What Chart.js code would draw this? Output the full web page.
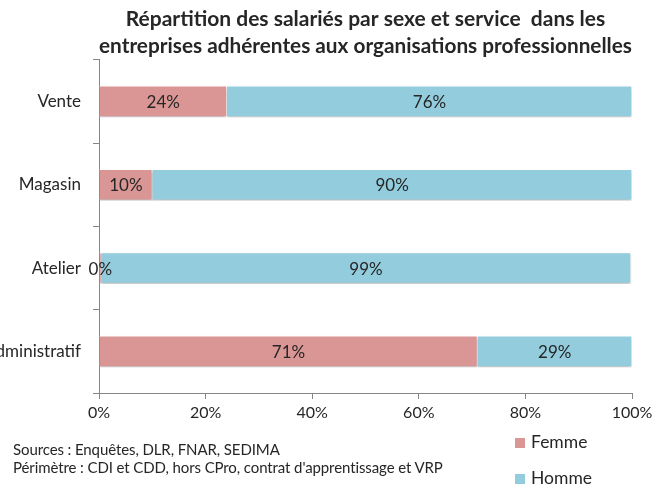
<!DOCTYPE html>
<html>
<head>
<meta charset="utf-8">
<script src="https://cdn.jsdelivr.net/npm/chart.js@4"></script>
<style>
  body { margin: 0; background: #fff; }
  #wrap { position: relative; width: 666px; height: 488px; }
  .note { position: absolute; left: 13px; font-family: Lato, sans-serif; font-size: 15px; color: #262626; white-space: nowrap; letter-spacing: -0.1px; }
  .leg { position: absolute; left: 515px; font-family: Lato, sans-serif; font-size: 17.5px; color: #262626; }
  .leg span { display: inline-block; width: 10px; height: 10px; margin-right: 6px; }
</style>
</head>
<body>
<div id="wrap">
  <canvas id="chart" width="666" height="488"></canvas>
  <div class="note" style="top:440px">Sources : Enquêtes, DLR, FNAR, SEDIMA</div>
  <div class="note" style="top:458px">Périmètre : CDI et CDD, hors CPro, contrat d'apprentissage et VRP</div>
  <div class="leg" style="top:431px"><span style="background:#D99694"></span>Femme</div>
  <div class="leg" style="top:467px"><span style="background:#93CDDD"></span>Homme</div>
</div>
<script>
const services = ["Vente", "Magasin", "Atelier", "Administratif"];
const femme = [24, 10, 0.4, 71];
const homme = [76, 90, 99.4, 29];
const xTicks = [0, 20, 40, 60, 80, 100];

const textColor = '#262626';
const fontFamily = 'Lato, sans-serif';

// labels in the middle of each segment
const segmentLabels = {
    id: 'segmentLabels',
    afterDatasetsDraw(chart) {
        const ctx = chart.ctx;
        ctx.save();
        ctx.font = '17px ' + fontFamily;
        ctx.fillStyle = textColor;
        ctx.textAlign = 'center';
        ctx.textBaseline = 'middle';
        chart.data.datasets.forEach((ds, i) => {
            chart.getDatasetMeta(i).data.forEach((bar, j) => {
                const cx = (bar.x + bar.base) / 2;
                ctx.fillText(Math.round(ds.data[j]) + '%', cx, bar.y + 1);
            });
        });
        ctx.restore();
    }
};

// soft shadow under the bars
const barShadow = {
    id: 'barShadow',
    beforeDatasetsDraw(chart) {
        const ctx = chart.ctx;
        ctx.save();
        ctx.shadowColor = 'rgba(0,0,0,0.3)';
        ctx.shadowOffsetY = 2;
        ctx.shadowBlur = 3;
    },
    afterDatasetsDraw(chart) {
        chart.ctx.restore();
    }
};

const ctx = document.getElementById('chart').getContext('2d');
new Chart(ctx, {
    type: 'bar',
    data: {
        labels: services,
        datasets: [
            { label: 'Femme', data: femme, backgroundColor: '#D99694', borderColor: '#ffffff', borderWidth: 1 },
            { label: 'Homme', data: homme, backgroundColor: '#93CDDD', borderColor: '#ffffff', borderWidth: 1 }
        ]
    },
    options: {
        indexAxis: 'y',
        responsive: false,
        animation: false,
        layout: { padding: { left: 0, right: 34, top: 0, bottom: 63 } },
        barThickness: 31,
        plugins: {
            legend: { display: false },
            tooltip: { enabled: false },
            title: {
                display: true,
                text: ['Répartition des salariés par sexe et service  dans les', 'entreprises adhérentes aux organisations professionnelles'],
                color: textColor,
                font: { family: fontFamily, size: 21, weight: 'bold', lineHeight: 1.28 },
                padding: { top: 6, bottom: 0 },
                fullSize: false
            }
        },
        scales: {
            x: {
                stacked: true,
                min: 0,
                max: 100,
                afterBuildTicks(axis) { axis.ticks = xTicks.map(v => ({ value: v })); },
                afterFit(axis) { axis.height = 32; },
                ticks: {
                    color: textColor,
                    font: { family: fontFamily, size: 16 },
                    padding: 4,
                    callback: v => v + '%'
                },
                grid: { drawOnChartArea: false, tickLength: 6, color: '#868686' },
                border: { color: '#868686' }
            },
            y: {
                stacked: true,
                afterFit(axis) { axis.width = 99; },
                ticks: {
                    color: textColor,
                    font: { family: fontFamily, size: 17 },
                    padding: 12
                },
                grid: { drawOnChartArea: false, tickLength: 6, color: '#868686' },
                border: { color: '#868686' }
            }
        }
    },
    plugins: [barShadow, segmentLabels]
});
</script>
</body>
</html>
